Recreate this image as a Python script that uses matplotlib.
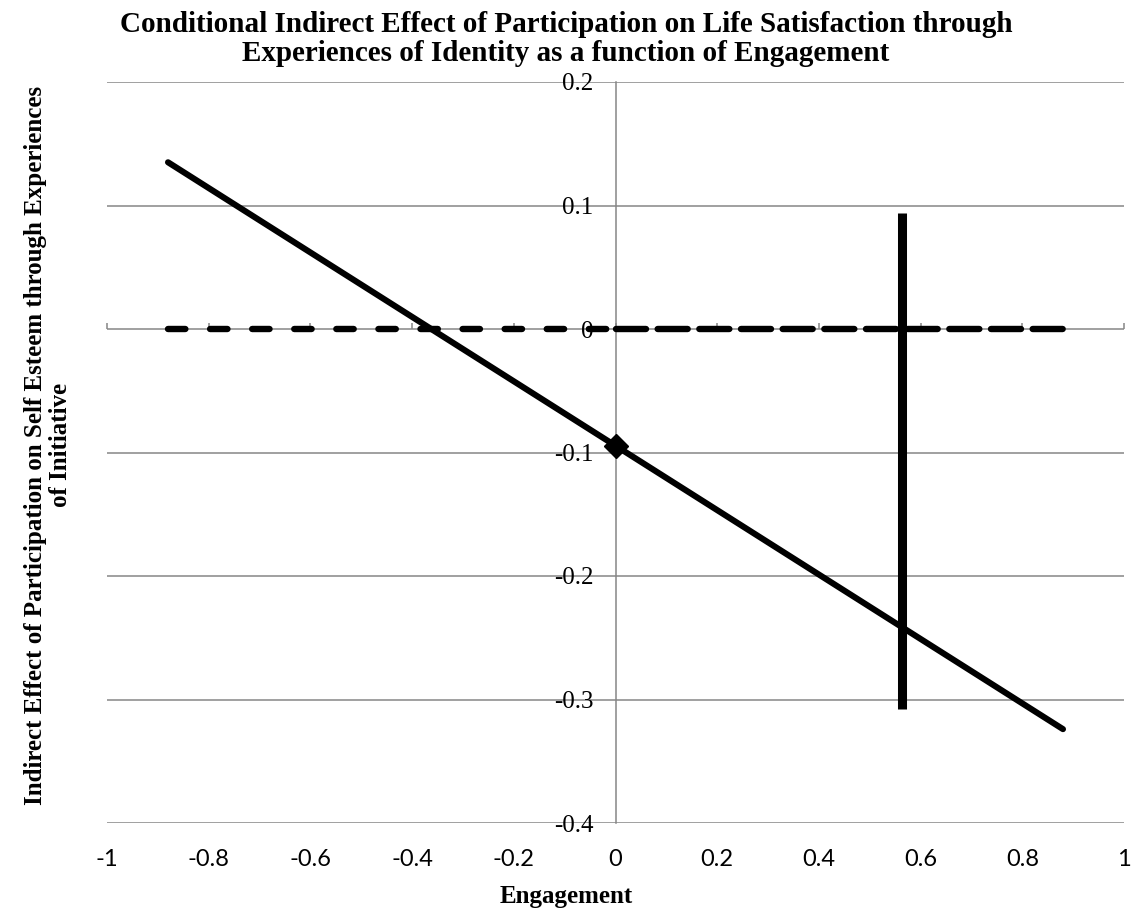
import matplotlib
matplotlib.use("Agg")
import matplotlib.pyplot as plt

plt.rcParams['axes.unicode_minus'] = False
plt.rcParams['lines.scale_dashes'] = False

# data
x_ticks = [-1, -0.8, -0.6, -0.4, -0.2, 0, 0.2, 0.4, 0.6, 0.8, 1]
x_tick_labels = ["-1", "-0.8", "-0.6", "-0.4", "-0.2", "0", "0.2", "0.4", "0.6", "0.8", "1"]
y_ticks = [0.2, 0.1, 0, -0.1, -0.2, -0.3, -0.4]
y_tick_labels = ["0.2", "0.1", "0", "-0.1", "-0.2", "-0.3", "-0.4"]

engagement = [-0.88, 0.88]
indirect_effect = [0.135, -0.324]

point_x = [0.0]
point_y = [-0.0945]

zero_left_x = [-0.88, 0.0]
zero_right_x = [0.0, 0.88]
zero_y = [0, 0]

jn_x = [0.563, 0.563]
jn_y = [0.094, -0.308]

title = ("Conditional Indirect Effect of Participation on Life Satisfaction through\n"
         "Experiences of Identity as a function of Engagement")
ylabel = ("Indirect Effect of Participation on Self Esteem through Experiences\n"
          "of Initiative")
xlabel = "Engagement"

grey = '#868686'
serif = ['Liberation Serif', 'DejaVu Serif']
sans = ['Lato', 'DejaVu Sans']

fig = plt.figure(figsize=(11.32, 9.14), dpi=100)
ax = fig.add_axes([107 / 1132, 1 - 823 / 914, (1124 - 107) / 1132, (823 - 82) / 914])
ax.set_xlim(-1, 1)
ax.set_ylim(-0.4, 0.2)

for s in ax.spines.values():
    s.set_visible(False)

# vertical axis through x=0 carrying the y labels
ax.spines['left'].set_visible(True)
ax.spines['left'].set_position(('data', 0))
ax.spines['left'].set_color(grey)
ax.spines['left'].set_linewidth(1.1)
ax.set_yticks(y_ticks)
ax.set_yticklabels(y_tick_labels, family=serif, fontsize=18)
ax.tick_params(axis='y', length=0, pad=16)
ax.yaxis.grid(True, color=grey, lw=1.1)
ax.set_axisbelow(True)

# x labels along the bottom
ax.set_xticks(x_ticks)
ax.set_xticklabels(x_tick_labels, family=sans, fontsize=17)
ax.tick_params(axis='x', length=0, pad=19)

# horizontal axis at y=0 with small tick marks
loc0 = (0 - y_ticks[-1]) / (y_ticks[0] - y_ticks[-1])
sec = ax.secondary_xaxis(loc0)
sec.set_xticks(x_ticks)
sec.set_xticklabels([])
sec.tick_params(direction='out', length=4, width=1.1, color=grey)
sec.spines['bottom'].set_color(grey)
sec.spines['bottom'].set_linewidth(1.1)
for k in ['top', 'left', 'right']:
    sec.spines[k].set_visible(False)

# dashed zero reference line
ax.plot(zero_left_x, zero_y, color='black', lw=4.6, ls=(0, (12.5, 17.8)),
        dash_capstyle='round', zorder=3)
ax.plot(zero_right_x, zero_y, color='black', lw=4.6, ls=(0, (21.6, 8.4)),
        dash_capstyle='round', zorder=3)

# conditional indirect effect
ax.plot(engagement, indirect_effect, color='black', lw=4.4,
        solid_capstyle='round', zorder=4)

# region of significance boundary
ax.plot(jn_x, jn_y, color='black', lw=6.5, solid_capstyle='butt', zorder=5)

# effect at mean engagement
ax.plot(point_x, point_y, marker='D', ms=12, color='black', ls='none', zorder=6)

fig.text(0.5, 1 - 39 / 914, title, ha='center', va='center', family=serif,
         fontsize=21, fontweight='bold', linespacing=1.1)
fig.text(48 / 1132, 1 - 445 / 914, ylabel, ha='center', va='center', rotation=90,
         family=serif, fontsize=18, fontweight='bold', multialignment='center',
         linespacing=1.15)
fig.text(0.5, 1 - 896 / 914, xlabel, ha='center', va='center', family=serif,
         fontsize=18, fontweight='bold')

fig.savefig("out.png", dpi=100)
